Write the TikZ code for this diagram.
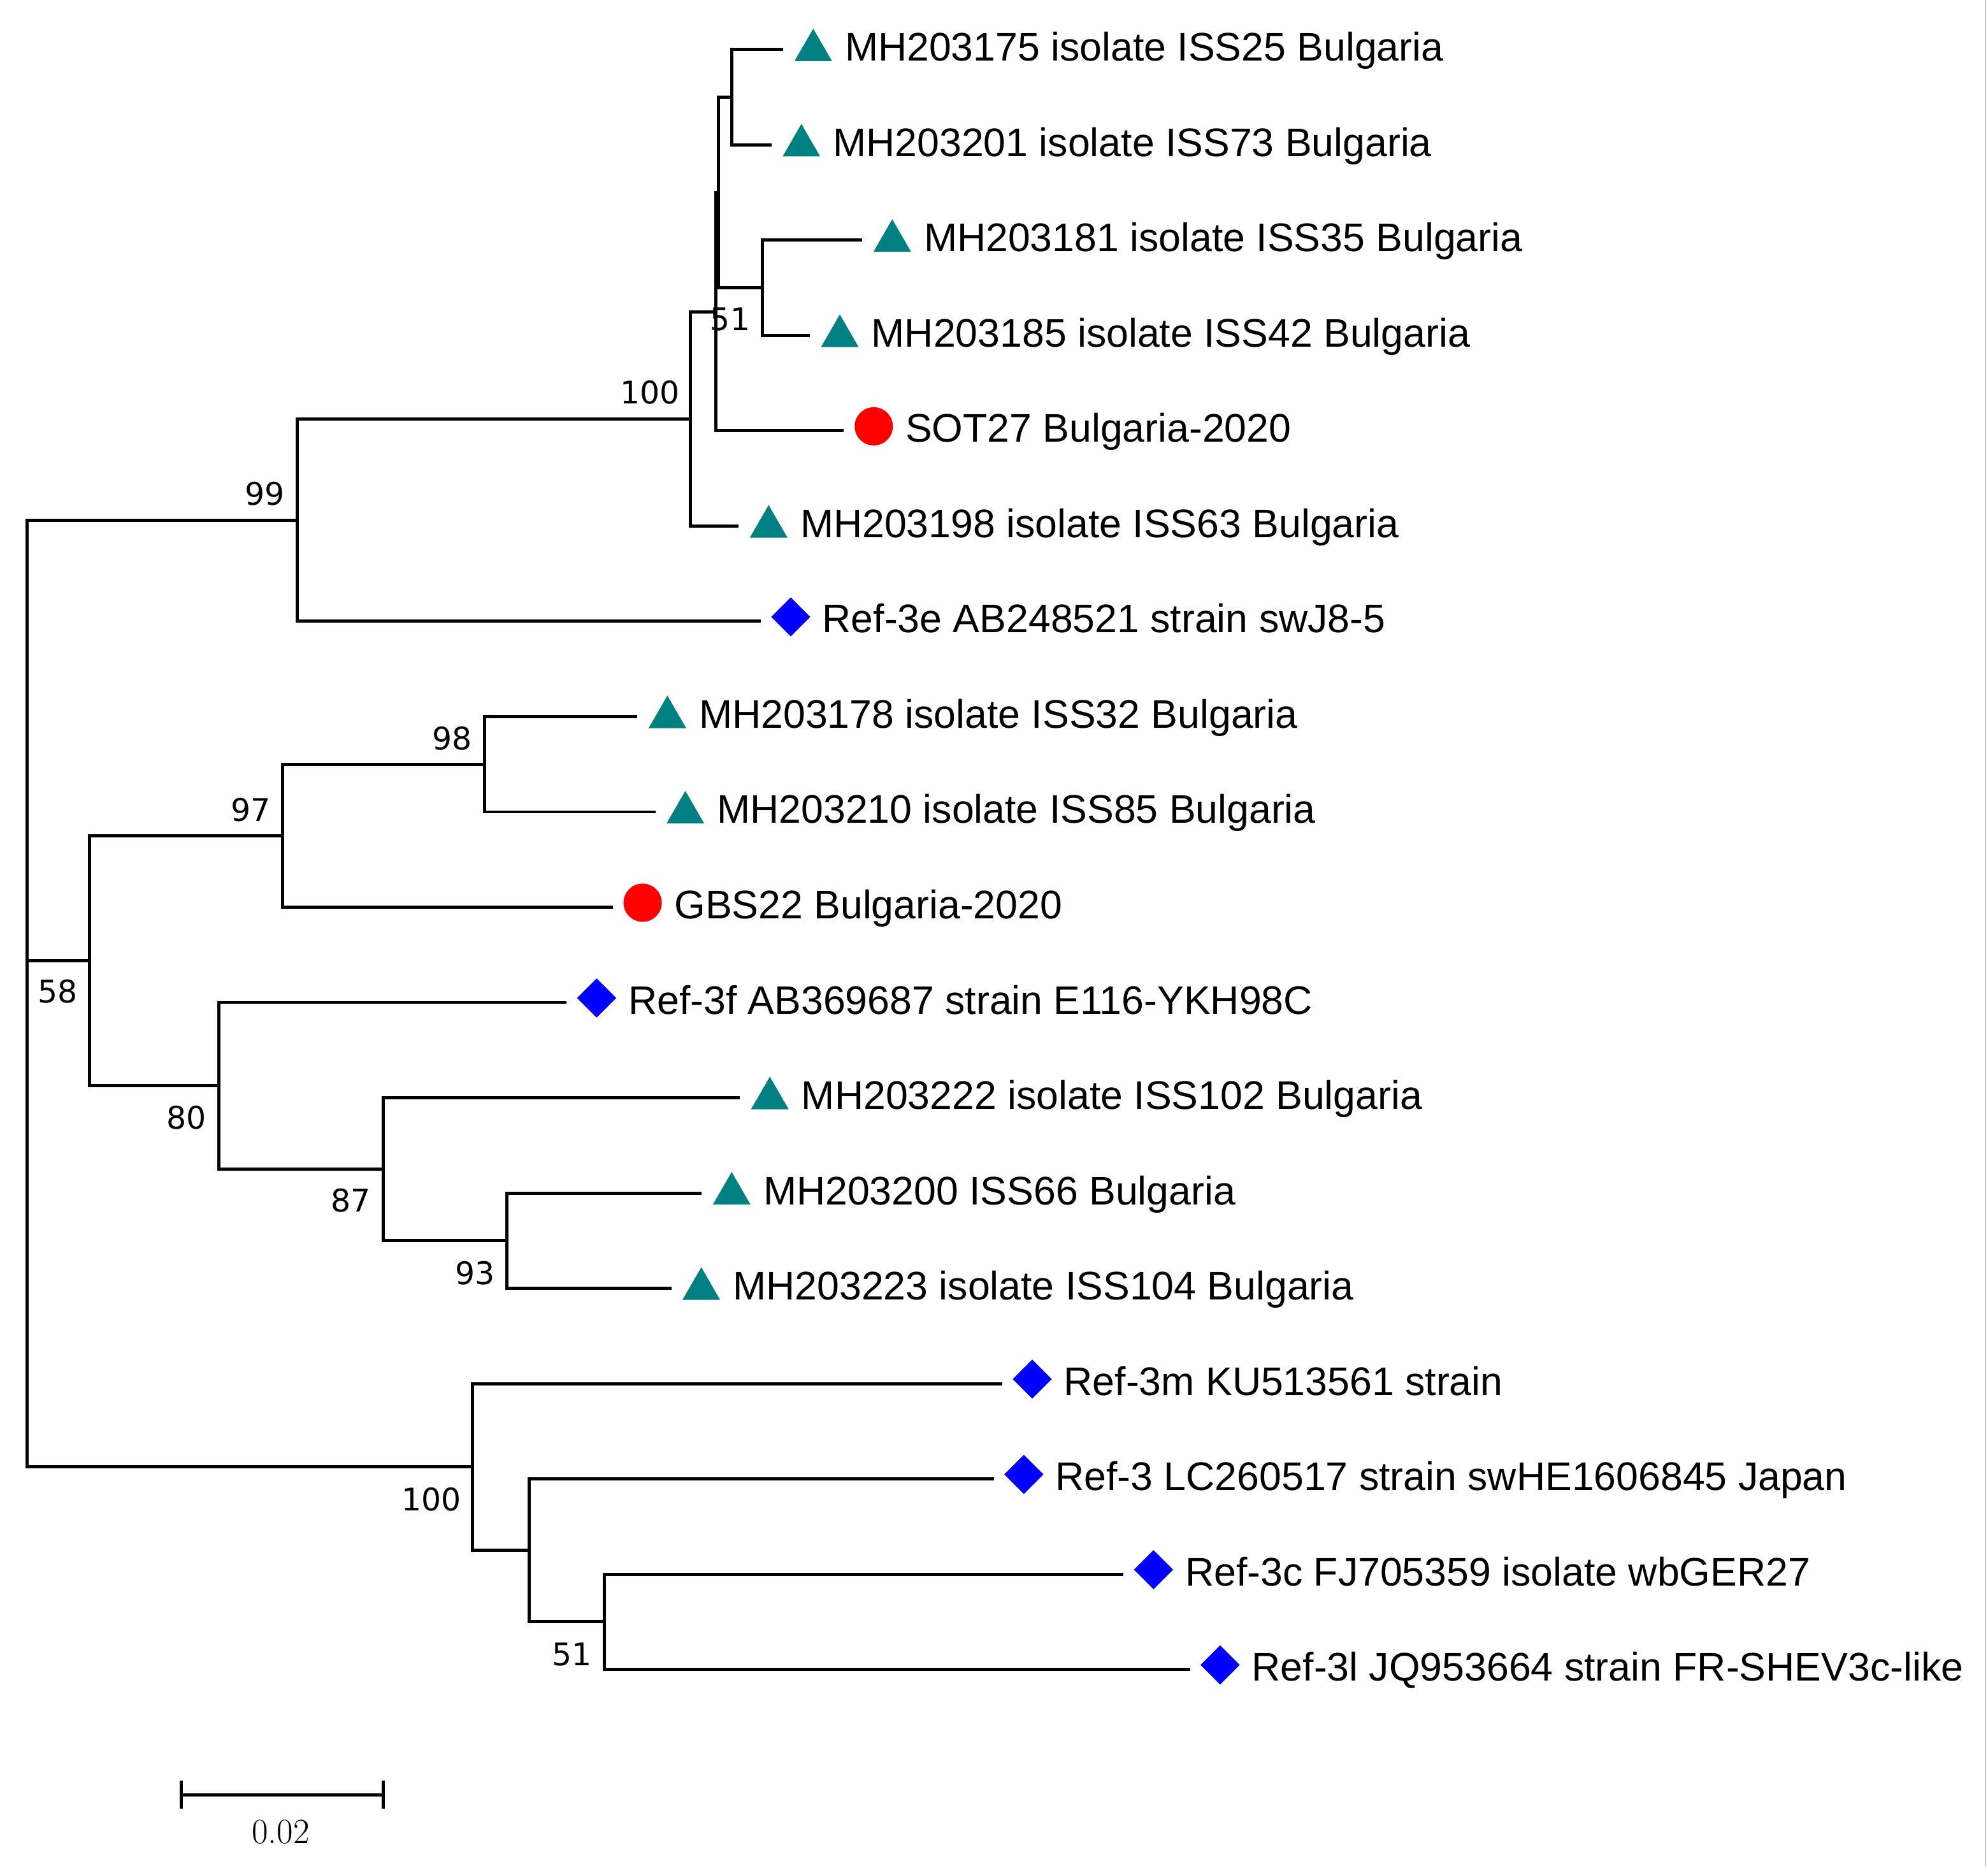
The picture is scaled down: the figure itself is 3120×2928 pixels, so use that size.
\documentclass[tikz,border=0pt]{standalone}
\usepackage{fontspec}
\newfontfamily\tipfamily{Liberation Sans}
\newfontfamily\bsfamily{DejaVu Sans}
\usetikzlibrary{shapes.geometric}
\definecolor{tealc}{RGB}{0,128,128}
\definecolor{redc}{RGB}{255,0,0}
\definecolor{bluec}{RGB}{0,0,255}
\begin{document}
\begin{tikzpicture}[x=0.01cm, y=-0.01cm,
  branch/.style={line width=1.42pt, line join=miter, line cap=butt},
  symtri/.style={regular polygon, regular polygon sides=3, fill=tealc, inner sep=0pt, minimum size=0.68cm, yshift=-0.01cm},
  symdot/.style={circle, fill=redc, inner sep=0pt, minimum size=0.60cm, yshift=0.07cm},
  symdia/.style={diamond, fill=bluec, inner sep=0pt, minimum width=0.62cm, minimum height=0.62cm, yshift=0.07cm},
  tiplabel/.style={anchor=base west, inner sep=0pt, font=\tipfamily\fontsize{17.8}{20}\selectfont},
  bslabel/.style={anchor=center, inner sep=0pt, font=\bsfamily\fontsize{13.9}{16}\selectfont}]
\useasboundingbox (0,0) rectangle (3120,2928);
\fill[white] (0,0) rectangle (3120,2928);
\newcommand\tipleaf[5]{%
  \coordinate (#1) at (#2,#3);
  \node[#4] (#1m) at (#2+47,#3) {};
  \node[tiplabel] (#1t) at (#2+96,#3+18) {#5};}
% leaves
\tipleaf{t1}{1229.3}{78}{symtri}{MH203175 isolate ISS25 Bulgaria}
\tipleaf{t2}{1210.7}{227.5}{symtri}{MH203201 isolate ISS73 Bulgaria}
\tipleaf{t3}{1353.3}{377}{symtri}{MH203181 isolate ISS35 Bulgaria}
\tipleaf{t4}{1271}{526.5}{symtri}{MH203185 isolate ISS42 Bulgaria}
\tipleaf{t5}{1324.3}{676}{symdot}{SOT27 Bulgaria-2020}
\tipleaf{t6}{1159.3}{825.5}{symtri}{MH203198 isolate ISS63 Bulgaria}
\tipleaf{t7}{1194}{975}{symdia}{Ref-3e AB248521 strain swJ8-5}
\tipleaf{t8}{1000.4}{1124.5}{symtri}{MH203178 isolate ISS32 Bulgaria}
\tipleaf{t9}{1028.6}{1274}{symtri}{MH203210 isolate ISS85 Bulgaria}
\tipleaf{t10}{961.6}{1423.5}{symdot}{GBS22 Bulgaria-2020}
\tipleaf{t11}{889.3}{1573}{symdia}{Ref-3f AB369687 strain E116-YKH98C}
\tipleaf{t12}{1161.2}{1722.5}{symtri}{MH203222 isolate ISS102 Bulgaria}
\tipleaf{t13}{1101.3}{1872}{symtri}{MH203200 ISS66 Bulgaria}
\tipleaf{t14}{1053.6}{2021.5}{symtri}{MH203223 isolate ISS104 Bulgaria}
\tipleaf{t15}{1573}{2171}{symdia}{Ref-3m KU513561 strain}
\tipleaf{t16}{1559.8}{2320.5}{symdia}{Ref-3 LC260517 strain swHE1606845 Japan}
\tipleaf{t17}{1763.4}{2470}{symdia}{Ref-3c FJ705359 isolate wbGER27}
\tipleaf{t18}{1867.9}{2619.5}{symdia}{Ref-3l JQ953664 strain FR-SHEV3c-like}
% internal nodes
\coordinate (root) at (42.4,1559);
\coordinate (n99) at (466.5,816.2);
\coordinate (n100) at (1083.3,657.3);
\coordinate (nA) at (1123,489.1);
\coordinate (nB) at (1127.7,302.25);
\coordinate (nC) at (1148.3,152.75);
\coordinate (nD) at (1196,451.75);
\coordinate (n58) at (140.6,1507.6);
\coordinate (n97) at (443.3,1311.4);
\coordinate (n98) at (760.7,1199.25);
\coordinate (n80) at (343.75,1703.8);
\coordinate (n87) at (601.3,1834.6);
\coordinate (n93) at (795.5,1946.75);
\coordinate (n100b) at (741,2301.8);
\coordinate (nE) at (830,2432.6);
\coordinate (n51b) at (948,2544.75);
% branches
\draw[branch] (root) |- (n99);
\draw[branch] (root) |- (n58);
\draw[branch] (root) |- (n100b);
\draw[branch] (n99) |- (n100);
\draw[branch] (n99) |- (t7);
\draw[branch] (n100) |- (nA);
\draw[branch] (n100) |- (t6);
\draw[branch] (nA) |- (nB);
\draw[branch] (nA) |- (t5);
\draw[branch] (nB) |- (nC);
\draw[branch] (nB) |- (nD);
\draw[branch] (nC) |- (t1);
\draw[branch] (nC) |- (t2);
\draw[branch] (nD) |- (t3);
\draw[branch] (nD) |- (t4);
\draw[branch] (n58) |- (n97);
\draw[branch] (n58) |- (n80);
\draw[branch] (n97) |- (n98);
\draw[branch] (n97) |- (t10);
\draw[branch] (n98) |- (t8);
\draw[branch] (n98) |- (t9);
\draw[branch] (n80) |- (t11);
\draw[branch] (n80) |- (n87);
\draw[branch] (n87) |- (t12);
\draw[branch] (n87) |- (n93);
\draw[branch] (n93) |- (t13);
\draw[branch] (n93) |- (t14);
\draw[branch] (n100b) |- (t15);
\draw[branch] (n100b) |- (nE);
\draw[branch] (nE) |- (t16);
\draw[branch] (nE) |- (n51b);
\draw[branch] (n51b) |- (t17);
\draw[branch] (n51b) |- (t18);
% bootstrap values
\node[bslabel] (b99) at (416,775) {99};
\node[bslabel] (b100) at (1020,616) {100};
\node[bslabel] (b51) at (1146,501) {51};
\node[bslabel] (b98) at (710,1158.5) {98};
\node[bslabel] (b97) at (393.5,1271) {97};
\node[bslabel] (b58) at (91,1556) {58};
\node[bslabel] (b80) at (293,1753.5) {80};
\node[bslabel] (b87) at (551,1883.5) {87};
\node[bslabel] (b93) at (745.8,1997.3) {93};
\node[bslabel] (b100b) at (676.8,2352.5) {100};
\node[bslabel] (b51b) at (897.5,2595.6) {51};
% scale bar
\coordinate (sb1) at (284.3,2816);
\coordinate (sb2) at (601,2816);
\draw[line width=1.42pt] (sb1) -- (sb2);
\draw[line width=1.42pt] ([yshift=0.22cm]sb1) -- ([yshift=-0.22cm]sb1);
\draw[line width=1.42pt] ([yshift=0.22cm]sb2) -- ([yshift=-0.22cm]sb2);
\node[inner sep=0pt, font=\fontsize{15.8}{18}\selectfont] (sbl) at (440.5,2874.7) {0.02};
% right border line
\draw[line width=0.5pt, gray!50] (3116,0) -- (3116,2928);
\end{tikzpicture}
\end{document}
